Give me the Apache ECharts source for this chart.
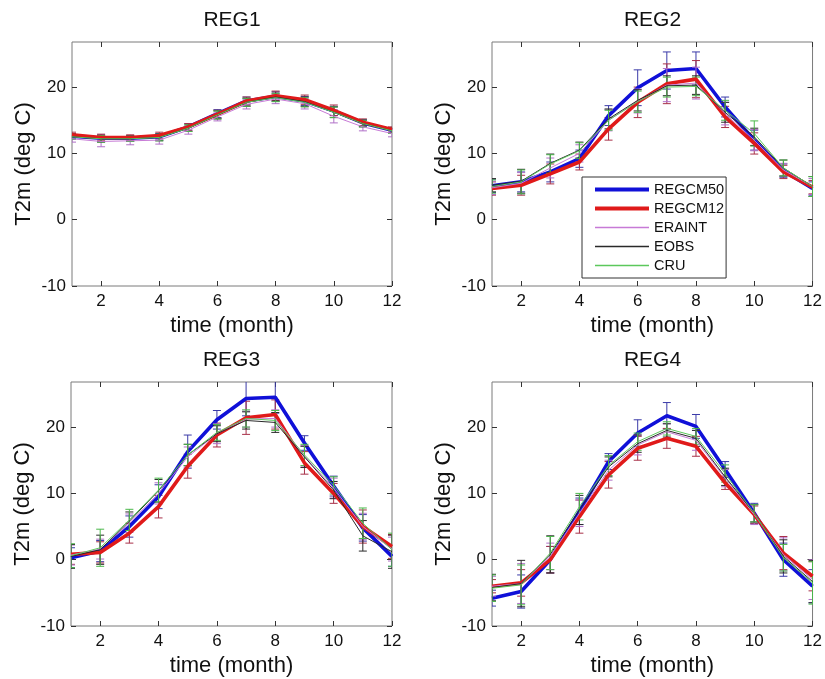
<!DOCTYPE html>
<html>
<head>
<meta charset="utf-8">
<script src="https://cdn.jsdelivr.net/npm/echarts@6/dist/echarts.min.js"></script>
<style>
html, body { margin: 0; padding: 0; background: #fff; }
#main { width: 825px; height: 679px; }
</style>
</head>
<body>
<div id="main"></div>
<script>
var months = [1, 2, 3, 4, 5, 6, 7, 8, 9, 10, 11, 12];
var regions = ['REG1', 'REG2', 'REG3', 'REG4'];
var xTicks = [2, 4, 6, 8, 10, 12];
var yTicks = [-10, 0, 10, 20];

// mean values, one row per region
var REGCM50 = [
  [12.6, 12.3, 12.3, 12.5, 14.0, 16.0, 17.9, 18.6, 17.9, 16.4, 14.6, 13.5],
  [5.1, 5.7, 7.2, 9.2, 15.7, 19.9, 22.5, 22.8, 17.0, 12.0, 7.4, 4.7],
  [0.3, 1.3, 5.0, 9.5, 16.3, 21.1, 24.3, 24.5, 17.6, 11.1, 4.8, 0.5],
  [-5.8, -4.8, 0.0, 7.3, 14.8, 19.1, 21.7, 20.1, 13.6, 7.0, 0.0, -4.0]
];
var REGCM12 = [
  [12.8, 12.4, 12.4, 12.7, 14.0, 15.9, 17.9, 18.7, 18.1, 16.5, 14.7, 13.6],
  [4.7, 5.2, 6.9, 8.7, 13.7, 17.7, 20.5, 21.2, 15.5, 11.5, 7.2, 4.9],
  [0.8, 1.1, 4.0, 8.0, 14.1, 18.8, 21.4, 21.9, 14.6, 10.0, 5.0, 2.0],
  [-4.0, -3.5, 0.0, 6.5, 12.8, 16.8, 18.3, 17.1, 11.6, 6.8, 1.0, -2.5]
];
var ERAINT = [
  [12.2, 11.8, 11.9, 12.0, 13.5, 15.5, 17.4, 18.2, 17.5, 15.6, 14.0, 13.0],
  [4.8, 5.5, 7.8, 10.0, 15.0, 17.9, 20.3, 20.6, 16.0, 12.0, 7.5, 5.0],
  [0.7, 1.6, 5.5, 10.0, 15.5, 19.0, 21.2, 21.3, 15.6, 10.8, 5.0, 1.6],
  [-4.0, -3.6, 0.5, 7.0, 13.5, 17.3, 19.3, 18.0, 12.3, 6.8, 0.8, -3.0]
];
var EOBS = [
  [12.5, 12.2, 12.2, 12.4, 13.8, 15.8, 17.7, 18.5, 17.8, 16.2, 14.5, 13.4],
  [5.2, 5.8, 8.5, 10.5, 15.2, 18.0, 20.2, 20.3, 16.2, 12.5, 7.8, 5.0],
  [0.5, 1.5, 5.8, 10.4, 15.8, 19.0, 21.0, 20.7, 15.5, 10.5, 3.6, 1.2],
  [-4.2, -3.6, 0.8, 7.5, 14.0, 17.5, 19.5, 18.3, 12.5, 7.0, 0.5, -3.3]
];
var CRU = [
  [12.5, 12.2, 12.2, 12.4, 13.8, 15.8, 17.7, 18.4, 17.7, 16.2, 14.5, 13.4],
  [5.0, 5.7, 8.4, 10.4, 15.0, 17.8, 20.0, 20.1, 16.5, 13.0, 7.8, 5.0],
  [0.6, 1.8, 6.0, 10.5, 15.8, 19.2, 21.3, 21.0, 15.8, 11.2, 5.5, 1.5],
  [-4.3, -3.8, 1.0, 8.0, 14.2, 17.8, 19.8, 18.6, 13.0, 7.0, 0.3, -3.5]
];

// error bar half-lengths
var ERR_REGCM50 = [
  [0.4, 0.5, 0.4, 0.5, 0.5, 0.6, 0.6, 0.7, 0.7, 0.7, 0.5, 0.4],
  [1.0, 1.5, 1.5, 1.3, 1.5, 2.7, 2.8, 2.5, 1.5, 1.5, 1.0, 1.0],
  [1.5, 1.6, 1.6, 1.8, 2.5, 1.4, 2.6, 2.4, 1.1, 1.5, 2.0, 1.5],
  [1.2, 2.5, 2.0, 2.0, 1.2, 2.0, 2.0, 1.8, 1.2, 1.5, 2.5, 2.5]
];
var ERR_REGCM12 = [
  [0.4, 0.5, 0.4, 0.5, 0.5, 0.6, 0.6, 0.7, 0.7, 0.8, 0.5, 0.4],
  [1.0, 1.5, 1.5, 1.2, 1.7, 2.3, 3.0, 2.8, 1.6, 1.6, 1.0, 1.0],
  [1.5, 1.6, 1.5, 1.7, 1.8, 1.8, 2.5, 2.2, 1.7, 1.5, 2.5, 1.8],
  [1.0, 2.0, 2.0, 2.5, 2.0, 1.8, 1.5, 1.5, 1.0, 1.3, 2.5, 2.2]
];
var ERR_ERAINT = [
  [0.5, 0.8, 0.6, 0.6, 0.6, 0.6, 0.7, 0.7, 0.8, 1.0, 0.6, 0.5],
  [1.0, 1.6, 1.5, 1.3, 1.6, 1.8, 2.5, 2.4, 1.7, 1.6, 1.0, 1.2],
  [1.5, 1.5, 1.4, 1.6, 1.5, 1.5, 1.2, 1.3, 1.6, 1.5, 2.0, 1.8],
  [1.5, 3.0, 2.0, 2.0, 1.5, 1.5, 1.2, 1.5, 1.3, 1.5, 2.5, 3.0]
];
var ERR_EOBS = [
  [0.4, 0.5, 0.4, 0.5, 0.5, 0.6, 0.6, 0.6, 0.7, 0.8, 0.5, 0.4],
  [1.0, 1.8, 1.4, 1.2, 1.5, 1.6, 1.5, 1.4, 1.5, 1.3, 1.2, 1.5],
  [1.8, 2.2, 1.4, 1.7, 1.6, 1.2, 1.3, 1.5, 1.6, 1.3, 2.3, 2.5],
  [2.0, 3.5, 2.8, 2.2, 1.5, 1.3, 1.0, 1.2, 1.3, 1.3, 2.5, 3.2]
];
var ERR_CRU = [
  [0.4, 0.5, 0.4, 0.5, 0.5, 0.6, 0.6, 0.6, 0.7, 0.8, 0.5, 0.4],
  [1.0, 1.8, 1.4, 1.2, 1.5, 1.6, 1.5, 1.4, 1.5, 1.9, 1.2, 1.5],
  [1.8, 2.8, 1.6, 1.8, 1.6, 1.2, 1.3, 1.5, 1.6, 1.3, 2.3, 2.5],
  [2.0, 3.0, 2.5, 2.0, 1.5, 1.3, 1.0, 1.2, 1.3, 1.3, 2.0, 3.2]
];

var FONT = 'Arial, "Liberation Sans", Helvetica, sans-serif';

var seriesDefs = [
  { name: 'REGCM50', data: REGCM50, err: ERR_REGCM50, color: '#1010d8', width: 3.6, bar: '#3a3aa8', z: 3 },
  { name: 'REGCM12', data: REGCM12, err: ERR_REGCM12, color: '#e01a1a', width: 3.6, bar: '#a83048', z: 4 },
  { name: 'ERAINT', data: ERAINT, err: ERR_ERAINT, color: '#c77ad6', width: 1, bar: '#b070c8', z: 5 },
  { name: 'EOBS', data: EOBS, err: ERR_EOBS, color: '#2a2a2a', width: 1, bar: '#2a2a2a', z: 5 },
  { name: 'CRU', data: CRU, err: ERR_CRU, color: '#5cc85c', width: 1, bar: '#4cb84c', z: 5 }
];

var grids = [
  { left: 72, top: 42, width: 320, height: 244 },
  { left: 492, top: 42, width: 321, height: 244 },
  { left: 71, top: 382, width: 321, height: 244 },
  { left: 492, top: 382, width: 321, height: 244 }
];

var xAxes = [], yAxes = [], series = [], titles = [];

function tickOpt(vals) {
  return { inside: true, length: 5, customValues: vals, lineStyle: { color: '#333' } };
}

grids.forEach(function (g, i) {
  g.show = true;
  g.borderColor = '#7a7a7a';
  g.borderWidth = 1;
  g.backgroundColor = '#fff';

  xAxes.push({
    type: 'value', gridIndex: i, min: 1, max: 12, position: 'bottom',
    axisLine: { show: false, onZero: false },
    splitLine: { show: false },
    axisTick: tickOpt(xTicks),
    axisLabel: { customValues: xTicks, fontSize: 17, color: '#111', fontFamily: FONT, margin: 7 },
    name: 'time (month)', nameLocation: 'middle', nameGap: 29,
    nameTextStyle: { fontSize: 22, color: '#111', fontFamily: FONT }
  });
  xAxes.push({
    type: 'value', gridIndex: i, min: 1, max: 12, position: 'top',
    axisLine: { show: false, onZero: false },
    splitLine: { show: false },
    axisTick: tickOpt(xTicks),
    axisLabel: { show: false }
  });
  yAxes.push({
    type: 'value', gridIndex: i, min: -10, max: 26.8, position: 'left',
    axisLine: { show: false, onZero: false },
    splitLine: { show: false },
    axisTick: tickOpt(yTicks),
    axisLabel: { customValues: yTicks, fontSize: 17, color: '#111', fontFamily: FONT, margin: 6 },
    name: 'T2m (deg C)', nameLocation: 'middle', nameGap: 37,
    nameTextStyle: { fontSize: 22, color: '#111', fontFamily: FONT }
  });
  yAxes.push({
    type: 'value', gridIndex: i, min: -10, max: 26.8, position: 'right',
    axisLine: { show: false, onZero: false },
    splitLine: { show: false },
    axisTick: tickOpt(yTicks),
    axisLabel: { show: false }
  });

  titles.push({
    type: 'text',
    x: g.left + g.width / 2,
    y: g.top - 22,
    style: { text: regions[i], font: '21px ' + FONT, fill: '#111', textAlign: 'center', textVerticalAlign: 'middle' }
  });

  seriesDefs.forEach(function (s) {
    var pts = months.map(function (m, k) { return [m, s.data[i][k]]; });
    var bars = months.map(function (m, k) { return [m, s.data[i][k], s.err[i][k]]; });
    series.push({
      name: s.name + ' err', type: 'custom', xAxisIndex: 2 * i, yAxisIndex: 2 * i,
      clip: true, silent: true, z: s.z - 1,
      data: bars,
      renderItem: (function (col) {
        return function (params, api) {
          var x = api.value(0), v = api.value(1), e = api.value(2);
          var hi = api.coord([x, v + e]);
          var lo = api.coord([x, v - e]);
          var hw = 4;
          var st = { stroke: col, lineWidth: 1 };
          return {
            type: 'group',
            children: [
              { type: 'line', shape: { x1: hi[0], y1: hi[1], x2: lo[0], y2: lo[1] }, style: st },
              { type: 'line', shape: { x1: hi[0] - hw, y1: hi[1], x2: hi[0] + hw, y2: hi[1] }, style: st },
              { type: 'line', shape: { x1: lo[0] - hw, y1: lo[1], x2: lo[0] + hw, y2: lo[1] }, style: st }
            ]
          };
        };
      })(s.bar)
    });
    series.push({
      name: s.name, type: 'line', xAxisIndex: 2 * i, yAxisIndex: 2 * i,
      data: pts, symbol: 'none', showSymbol: false, z: s.z,
      lineStyle: { color: s.color, width: s.width },
      itemStyle: { color: s.color },
      emphasis: { disabled: true }
    });
  });
});

var legendItems = seriesDefs.map(function (s) {
  return { name: s.name, lineStyle: { width: s.width > 2 ? 4 : 1.5, color: s.color } };
});

var chart = echarts.init(document.getElementById('main'));
chart.setOption({
  backgroundColor: '#fff',
  animation: false,
  textStyle: { fontFamily: FONT },
  grid: grids,
  xAxis: xAxes,
  yAxis: yAxes,
  graphic: titles,
  legend: {
    data: legendItems,
    orient: 'vertical',
    left: 582, top: 177,
    itemWidth: 54, itemHeight: 14, itemGap: 4,
    padding: [5, 2, 5, 11],
    borderColor: '#333', borderWidth: 1,
    backgroundColor: '#fff',
    selectedMode: false,
    itemStyle: { opacity: 0 },
    textStyle: { fontSize: 14.5, color: '#111', fontFamily: FONT }
  },
  series: series
});
</script>
</body>
</html>
